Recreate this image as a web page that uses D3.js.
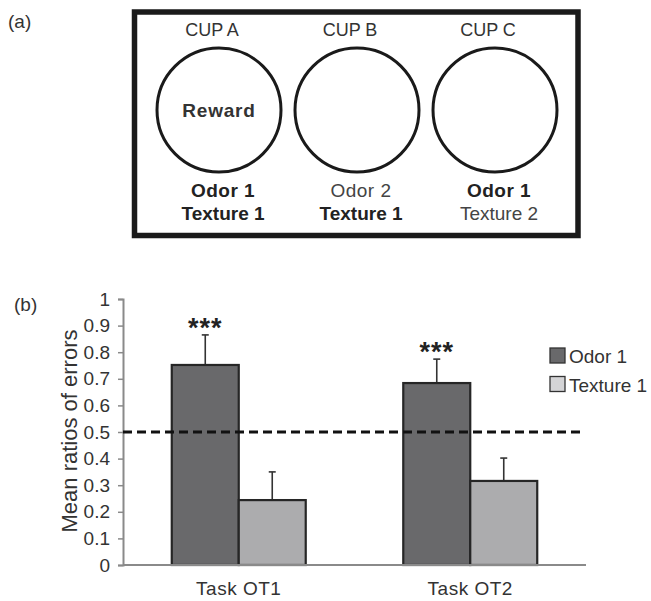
<!DOCTYPE html>
<html>
<head>
<meta charset="utf-8">
<script src="https://cdn.jsdelivr.net/npm/d3@7"></script>
<style>
  html, body { margin: 0; padding: 0; background: #fff; }
  svg { display: block; font-family: "Liberation Sans", Arial, Helvetica, sans-serif; }
</style>
</head>
<body>
<svg id="chart" width="651" height="601"></svg>
<script>
// ---- Data ----
const cupNames = ["CUP A", "CUP B", "CUP C"];
const cupOdor = ["Odor 1", "Odor 2", "Odor 1"];
const cupOdorBold = [true, false, true];
const cupTexture = ["Texture 1", "Texture 1", "Texture 2"];
const cupTextureBold = [true, true, false];
const cupCenterText = ["Reward", "", ""];

const tasks = ["Task OT1", "Task OT2"];
const seriesNames = ["Odor 1", "Texture 1"];
const odorMeans = [0.752, 0.684];
const odorErr = [0.113, 0.090];
const textureMeans = [0.244, 0.316];
const textureErr = [0.106, 0.086];
const significance = ["***", "***"];
const yTicks = [0, 0.1, 0.2, 0.3, 0.4, 0.5, 0.6, 0.7, 0.8, 0.9, 1];
const chanceLevel = 0.5;

const svg = d3.select("#chart");

// ---- Panel (a) ----
svg.append("text").attr("x", 8).attr("y", 28).attr("font-size", 19).attr("fill", "#333").text("(a)");

svg.append("rect")
  .attr("x", 134.5).attr("y", 12).attr("width", 443.5).attr("height", 223.5)
  .attr("fill", "none").attr("stroke", "#1a1a1a").attr("stroke-width", 5.5);

const cx = d3.scalePoint().domain(cupNames).range([219, 495]);
const cups = svg.append("g").selectAll("g").data(cupNames).join("g")
  .attr("transform", d => `translate(${cx(d)},0)`);

cups.append("text").attr("x", -7).attr("y", 36).attr("text-anchor", "middle")
  .attr("font-size", 18).attr("fill", "#333").text(d => d);
cups.append("circle").attr("cx", 0).attr("cy", 110).attr("r", 62)
  .attr("fill", "none").attr("stroke", "#1a1a1a").attr("stroke-width", 3);
cups.append("text").attr("x", 0).attr("y", 117).attr("text-anchor", "middle")
  .attr("font-size", 19).attr("font-weight", "bold").attr("letter-spacing", 0.8)
  .attr("fill", "#333").text((d, i) => cupCenterText[i]);
cups.append("text").attr("x", 4).attr("y", 197).attr("text-anchor", "middle")
  .attr("font-size", 19).attr("letter-spacing", 0.5)
  .attr("font-weight", (d, i) => cupOdorBold[i] ? "bold" : "normal")
  .attr("fill", (d, i) => cupOdorBold[i] ? "#222" : "#444")
  .text((d, i) => cupOdor[i]);
cups.append("text").attr("x", 4).attr("y", 220).attr("text-anchor", "middle")
  .attr("font-size", 19)
  .attr("font-weight", (d, i) => cupTextureBold[i] ? "bold" : "normal")
  .attr("fill", (d, i) => cupTextureBold[i] ? "#222" : "#444")
  .text((d, i) => cupTexture[i]);

// ---- Panel (b) ----
svg.append("text").attr("x", 14).attr("y", 311).attr("font-size", 19).attr("fill", "#333").text("(b)");

const x0 = d3.scaleBand().domain(tasks).range([123, 586]).padding(0);
const x1 = d3.scaleBand().domain(seriesNames).range([0, x0.bandwidth()])
  .paddingInner(0).paddingOuter(0.728);
const y = d3.scaleLinear().domain([0, 1]).range([565, 299]);

const colors = { "Odor 1": "#69696b", "Texture 1": "#acacae" };
const legendColors = { "Odor 1": "#69696b", "Texture 1": "#d4d4d6" };

// y axis
const yAxis = svg.append("g").attr("transform", "translate(123,0)")
  .call(d3.axisLeft(y).tickValues(yTicks).tickFormat(d => d3.format("")(+d.toFixed(1))).tickSize(5).tickPadding(8));
yAxis.select(".domain").attr("stroke", "#8a8a8a").attr("stroke-width", 2);
yAxis.selectAll(".tick line").attr("stroke", "#8a8a8a").attr("stroke-width", 1.5);
yAxis.selectAll(".tick text").attr("font-size", 19).attr("fill", "#333")
  .attr("font-family", "'Liberation Sans', Arial, sans-serif");

// y title
svg.append("text")
  .attr("transform", "translate(77,431) rotate(-90)")
  .attr("text-anchor", "middle").attr("font-size", 22).attr("fill", "#333")
  .text("Mean ratios of errors");

// bars
const rows = tasks.map((t, i) => ({
  task: t,
  values: [
    { s: "Odor 1", v: odorMeans[i], e: odorErr[i] },
    { s: "Texture 1", v: textureMeans[i], e: textureErr[i] }
  ],
  sig: significance[i]
}));

const groups = svg.append("g").selectAll("g").data(rows).join("g")
  .attr("transform", d => `translate(${x0(d.task)},0)`);

// error bars (behind bars)
groups.selectAll("g.err").data(d => d.values).join("g").attr("class", "err")
  .each(function(d) {
    const g = d3.select(this);
    const xc = x1(d.s) + x1.bandwidth() / 2;
    g.append("line").attr("x1", xc).attr("x2", xc).attr("y1", y(d.v)).attr("y2", y(d.v + d.e))
      .attr("stroke", "#333").attr("stroke-width", 1.6);
    g.append("line").attr("x1", xc - 3.5).attr("x2", xc + 3.5).attr("y1", y(d.v + d.e)).attr("y2", y(d.v + d.e))
      .attr("stroke", "#333").attr("stroke-width", 1.6);
  });

groups.selectAll("rect").data(d => d.values).join("rect")
  .attr("x", d => x1(d.s))
  .attr("y", d => y(d.v))
  .attr("width", x1.bandwidth())
  .attr("height", d => y(0) - y(d.v))
  .attr("fill", d => colors[d.s])
  .attr("stroke", "#262626").attr("stroke-width", 2.2);

// significance stars
groups.append("text")
  .attr("x", x1("Odor 1") + x1.bandwidth() / 2)
  .attr("y", d => y(d.values[0].v + d.values[0].e) + 2)
  .attr("text-anchor", "middle").attr("font-size", 27).attr("font-weight", "bold")
  .attr("letter-spacing", 1).attr("fill", "#222")
  .text(d => d.sig);

// x axis
svg.append("line").attr("x1", 123).attr("x2", 586).attr("y1", y(0)).attr("y2", y(0))
  .attr("stroke", "#8a8a8a").attr("stroke-width", 2);
svg.append("g").selectAll("text").data(tasks).join("text")
  .attr("x", d => x0(d) + x0.bandwidth() / 2).attr("y", 595)
  .attr("text-anchor", "middle").attr("font-size", 19).attr("fill", "#333")
  .attr("letter-spacing", 0.5)
  .text(d => d);

// chance line
svg.append("line").attr("x1", 123).attr("x2", 583).attr("y1", y(chanceLevel)).attr("y2", y(chanceLevel))
  .attr("stroke", "#111").attr("stroke-width", 3).attr("stroke-dasharray", "9,5");

// legend
const legend = svg.append("g").selectAll("g").data(seriesNames).join("g")
  .attr("transform", (d, i) => `translate(550,${348 + i * 28.5})`);
legend.append("rect").attr("x", 0).attr("y", 0).attr("width", 15).attr("height", 15)
  .attr("fill", d => legendColors[d]).attr("stroke", "#333").attr("stroke-width", 1.3);
legend.append("text").attr("x", 19).attr("y", 15).attr("font-size", 19).attr("fill", "#333")
  .text(d => d);
</script>
</body>
</html>
